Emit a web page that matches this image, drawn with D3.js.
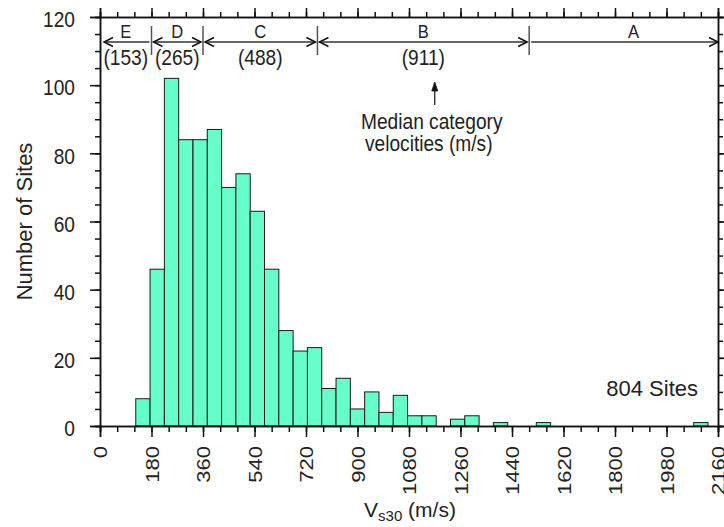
<!DOCTYPE html>
<html>
<head>
<meta charset="utf-8">
<script src="https://cdn.jsdelivr.net/npm/d3@7"></script>
<style>
  body { margin: 0; background: #fff; }
  text { font-family: "Liberation Sans", Arial, sans-serif; fill: #222; }
</style>
</head>
<body>
<div id="chart"></div>
<script>
// Vs30 histogram, 50 m/s bins (bin centres), site counts per bin
var vs30Bins = [150, 200, 250, 300, 350, 400, 450, 500, 550, 600, 650, 700, 750,
                800, 850, 900, 950, 1000, 1050, 1100, 1150, 1250, 1300, 1400, 1550, 2100]
var siteCounts = [8, 46, 102, 84, 84, 87, 70, 74, 63, 46, 28, 22, 23,
                  11, 14, 5, 10, 4, 9, 3, 3, 2, 3, 1, 1, 1]
var binWidth = 50

// NEHRP site classes and their median velocities
var siteClasses = ["E", "D", "C", "B", "A"]
var classEdges = [0, 180, 360, 760, 1500, 2160]
var classMedians = [153, 265, 488, 911, null]

var xTicks = [0, 180, 360, 540, 720, 900, 1080, 1260, 1440, 1620, 1800, 1980, 2160]
var yTicks = [0, 20, 40, 60, 80, 100, 120]

var width = 724, height = 527
var margin = {top: 17, right: 6, bottom: 101, left: 100}
var squeeze = 0.87   // horizontal text is set slightly narrow

var svg = d3.select("#chart").append("svg")
    .attr("width", width)
    .attr("height", height)

var x = d3.scaleLinear().domain([0, 2160]).range([margin.left, width - margin.right])
var y = d3.scaleLinear().domain([0, 120]).range([height - margin.bottom, margin.top])

var x0 = x.range()[0], x1 = x.range()[1]
var y0 = y.range()[0], y1 = y.range()[1]

function label(g, px, py, str, size, sq, anchor) {
    return g.append("text")
        .attr("transform", "translate(" + px + "," + py + ") scale(" + sq + ",1)")
        .attr("text-anchor", anchor || "middle")
        .style("font-size", size + "px")
        .text(str)
}

// bars
svg.append("g").selectAll("rect")
    .data(vs30Bins)
    .enter().append("rect")
    .attr("x", d => x(d - binWidth / 2))
    .attr("width", d => x(d + binWidth / 2) - x(d - binWidth / 2))
    .attr("y", (d, i) => y(siteCounts[i]))
    .attr("height", (d, i) => y0 - y(siteCounts[i]))
    .attr("fill", "#66ffcc")
    .attr("stroke", "#1a1a1a")
    .attr("stroke-width", 1)

// axes: major + minor ticks on all four sides
function styleAxis(g) {
    g.select(".domain").attr("stroke", "#111").attr("stroke-width", 1.5)
    g.selectAll(".tick line").attr("stroke", "#111").attr("stroke-width", 1.5)
}

var xMinor = d3.range(0, 2161, 60)
var yMinor = d3.range(0, 121, 5)

svg.append("g").attr("transform", "translate(0," + y0 + ")")
    .call(d3.axisBottom(x).tickValues(xMinor).tickSize(6).tickFormat(""))
    .call(styleAxis)
var xAxis = svg.append("g").attr("transform", "translate(0," + y0 + ")")
    .call(d3.axisBottom(x).tickValues(xTicks).tickSize(11).tickFormat(d3.format("d")))
    .call(styleAxis)
xAxis.selectAll("text")
    .attr("transform", "scale(" + squeeze + ",1) rotate(-90)")
    .attr("x", -20)
    .attr("y", 0)
    .attr("dy", "0.36em")
    .style("text-anchor", "end")
    .style("font-size", "22px")

svg.append("g").attr("transform", "translate(0," + y1 + ")")
    .call(d3.axisTop(x).tickValues(xMinor).tickSize(5).tickFormat(""))
    .call(styleAxis)
svg.append("g").attr("transform", "translate(0," + y1 + ")")
    .call(d3.axisTop(x).tickValues(xTicks).tickSize(9).tickFormat(""))
    .call(styleAxis)

svg.append("g").attr("transform", "translate(" + x0 + ",0)")
    .call(d3.axisLeft(y).tickValues(yMinor).tickSize(5).tickFormat(""))
    .call(styleAxis)
var yAxis = svg.append("g").attr("transform", "translate(" + x0 + ",0)")
    .call(d3.axisLeft(y).tickValues(yTicks).tickSize(10))
    .call(styleAxis)
yAxis.selectAll("text")
    .attr("x", 0)
    .attr("dy", "0.44em")
    .attr("transform", "translate(-25,0) scale(" + squeeze + ",1)")
    .style("font-size", "22px")

svg.append("g").attr("transform", "translate(" + x1 + ",0)")
    .call(d3.axisRight(y).tickValues(yMinor).tickSize(5).tickFormat(""))
    .call(styleAxis)
svg.append("g").attr("transform", "translate(" + x1 + ",0)")
    .call(d3.axisRight(y).tickValues(yTicks).tickSize(10).tickFormat(""))
    .call(styleAxis)

svg.selectAll(".tick text").style("fill", "#222")

// axis titles
svg.append("text")
    .attr("transform", "translate(32," + ((y0 + y1) / 2) + ") rotate(-90)")
    .attr("text-anchor", "middle")
    .style("font-size", "22px")
    .text("Number of Sites")

var xTitle = svg.append("text")
    .attr("x", (x0 + x1) / 2 + 1)
    .attr("y", 517)
    .attr("text-anchor", "middle")
    .style("font-size", "21px")
xTitle.append("tspan").text("V")
xTitle.append("tspan").attr("dy", 4).style("font-size", "15px").text("s30")
xTitle.append("tspan").attr("dy", -4).text(" (m/s)")

// site class ranges along the top
var arrowY = 42, head = 9, half = 4.5
var classes = svg.append("g")

classEdges.slice(1, -1).forEach(function(e) {
    classes.append("line")
        .attr("x1", x(e)).attr("x2", x(e))
        .attr("y1", 26).attr("y2", 55)
        .attr("stroke", "#555").attr("stroke-width", 1.5)
})

siteClasses.forEach(function(name, i) {
    var a = x(classEdges[i]) + 2, b = x(classEdges[i + 1]) - 2
    if (i === 0) a = x0 + 4
    if (i === siteClasses.length - 1) b = x1
    classes.append("line")
        .attr("x1", a).attr("x2", b)
        .attr("y1", arrowY).attr("y2", arrowY)
        .attr("stroke", "#333").attr("stroke-width", 1.3)
    if (i !== siteClasses.length - 1) {
        classes.append("path")
            .attr("d", "M" + (a + head) + "," + (arrowY - half) + "L" + a + "," + arrowY + "L" + (a + head) + "," + (arrowY + half))
            .attr("fill", "none").attr("stroke", "#111").attr("stroke-width", 1.5)
    }
    if (i !== 0) {
        classes.append("path")
            .attr("d", "M" + (b - head) + "," + (arrowY - half) + "L" + b + "," + arrowY + "L" + (b - head) + "," + (arrowY + half))
            .attr("fill", "none").attr("stroke", "#111").attr("stroke-width", 1.5)
    }
    var cx = x((classEdges[i] + classEdges[i + 1]) / 2)
    if (i === siteClasses.length - 1) cx += 10
    label(classes, cx, 38, name, 19, squeeze)
    if (classMedians[i] != null) {
        label(classes, cx, 65, "(" + classMedians[i] + ")", 22, squeeze)
    }
})

// note pointing at the medians
var noteX = x(1170)
svg.append("line")
    .attr("x1", noteX).attr("x2", noteX)
    .attr("y1", 105).attr("y2", 88)
    .attr("stroke", "#111").attr("stroke-width", 1.2)
svg.append("path")
    .attr("d", "M" + (noteX - 3) + ",91L" + noteX + ",82L" + (noteX + 3) + ",91Z")
    .attr("fill", "#111").attr("stroke", "#111").attr("stroke-width", 0.8)
label(svg, noteX - 3, 129, "Median category", 22, squeeze)
label(svg, noteX - 6, 151, "velocities (m/s)", 22, squeeze)

label(svg, 698, 396, d3.sum(siteCounts) + " Sites", 22, 1, "end")
</script>
</body>
</html>
